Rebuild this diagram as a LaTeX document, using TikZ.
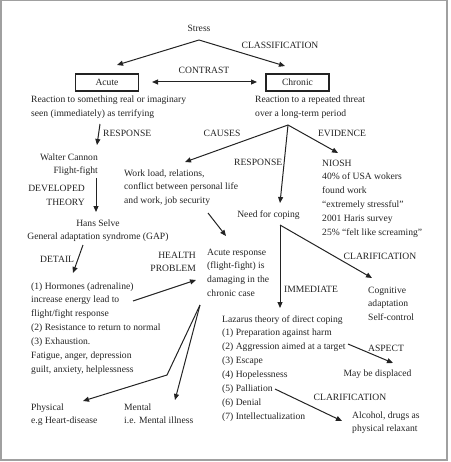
\documentclass[tikz,border=0pt]{standalone}
\usepackage{fontspec}
\setmainfont{Liberation Serif}
\usetikzlibrary{arrows.meta}
\definecolor{ink}{RGB}{35,35,35}
\definecolor{framec}{RGB}{160,160,160}
\begin{document}
\begin{tikzpicture}[x=1pt,y=-1pt,
  txt/.style={inner sep=0pt, font=\fontsize{9.6}{13.9}\selectfont, text=ink, align=left},
  boxnode/.style={draw=ink, line width=1.1pt, minimum width=63pt, minimum height=17pt, inner sep=0pt, font=\fontsize{9.6}{13.9}\selectfont, text=ink},
  conn/.style={draw=ink, line width=1pt, -{Triangle[length=6pt,width=5pt]}},
  ]
\useasboundingbox (0,0) rectangle (450,462);
\draw[framec, line width=1.5pt] (0.75,0.75) rectangle (447,460);

% texts (multi-line nodes are placed by the baseline of their last line)
\node[txt, anchor=base] (stress) at (199,32) {Stress};
\node[txt, anchor=base] (classif) at (280,49) {CLASSIFICATION};
\node[txt, anchor=base] (contrast) at (204,74) {CONTRAST};
\node[boxnode] (acute) at (107,82.5) {Acute};
\node[boxnode] (chronic) at (297.5,82.5) {Chronic};
\node[txt, anchor=base west] (acutedef) at (31,116.9) {Reaction to something real or imaginary\\seen (immediately) as terrifying};
\node[txt, anchor=base west] (chronicdef) at (255,116.9) {Reaction to a repeated threat\\over a long-term period};
\node[txt, anchor=base west] (resp1) at (103,137) {RESPONSE};
\node[txt, anchor=base] (causes) at (222,137) {CAUSES};
\node[txt, anchor=base] (evidence) at (342,137) {EVIDENCE};
\node[txt, anchor=base east, align=right] (cannon) at (98,173.9) {Walter Cannon\\Flight-fight};
\node[txt, anchor=base west] (causelist) at (124,203.8) {Work load, relations,\\conflict between personal life\\and work, job security};
\node[txt, anchor=base west] (resp2) at (234,166) {RESPONSE};
\node[txt, anchor=base west] (niosh) at (322,235.5) {NIOSH\\40\% of USA wokers\\found work\\“extremely stressful”\\2001 Haris survey\\25\% “felt like screaming”};
\node[txt, anchor=base east, align=right] (devtheory) at (85,205.9) {DEVELOPED\\THEORY};
\node[txt, anchor=base] (coping) at (268.5,217) {Need for coping};
\node[txt, anchor=base, align=center] (selye) at (98,239.9) {Hans Selve\\General adaptation syndrome (GAP)};
\node[txt, anchor=base west] (detail) at (40,262) {DETAIL};
\node[txt, anchor=base east, align=right] (health) at (196,271.9) {HEALTH\\PROBLEM};
\node[txt, anchor=base west] (acuteresp) at (207,296.7) {Acute response\\(flight-fight) is\\damaging in the\\chronic case};
\node[txt, anchor=base] (clarif1) at (380,259) {CLARIFICATION};
\node[txt, anchor=base west] (cognitive) at (368,320.8) {Cognitive\\adaptation\\Self-control};
\node[txt, anchor=base] (immediate) at (311,292) {IMMEDIATE};
\node[txt, anchor=base west] (gapdetail) at (31,372.4) {(1) Hormones (adrenaline)\\increase energy lead to\\flight/fight response\\(2) Resistance to return to normal\\(3) Exhaustion.\\Fatigue, anger, depression\\guilt, anxiety, helplessness};
\node[txt, anchor=base west] (lazarus) at (222,419.3) {Lazarus theory of direct coping\\(1) Preparation against harm\\(2) Aggression aimed at a target\\(3) Escape\\(4) Hopelessness\\(5) Palliation\\(6) Denial\\(7) Intellectualization};
\node[txt, anchor=base] (aspect) at (386,351) {ASPECT};
\node[txt, anchor=base] (displaced) at (377.5,376) {May be displaced};
\node[txt, anchor=base] (clarif2) at (350,400) {CLARIFICATION};
\node[txt, anchor=base west] (alcohol) at (352,431.9) {Alcohol, drugs as\\physical relaxant};
\node[txt, anchor=base west] (physical) at (31,423.9) {Physical\\e.g Heart-disease};
\node[txt, anchor=base west] (mental) at (124,423.9) {Mental\\i.e. Mental illness};

% connector points
\coordinate (stressfork) at (199,40);
\coordinate (acutetip) at (117,65);
\coordinate (chronictip) at (285,66);
\coordinate (contrastL) at (152,82);
\coordinate (contrastR) at (257,82);
\coordinate (resp1from) at (100,124);
\coordinate (resp1to) at (97,145);
\coordinate (chronicfork) at (288,125);
\coordinate (causestip) at (185,162);
\coordinate (copingtip) at (280,203);
\coordinate (nioshtip) at (338,153);
\coordinate (devfrom) at (96,178);
\coordinate (devto) at (96,212);
\coordinate (workfrom) at (208,213);
\coordinate (worktip) at (226,236);
\coordinate (gapfrom) at (83,245);
\coordinate (detailtip) at (73,273);
\coordinate (hormfrom) at (133,301);
\coordinate (healthtip) at (196,280);
\coordinate (problemfork) at (200,305);
\coordinate (physbend) at (167,375);
\coordinate (phystip) at (83,401);
\coordinate (menttip) at (175,400);
\coordinate (copingfork) at (280,225);
\coordinate (lazarustip) at (280,308);
\coordinate (cognitivetip) at (372,278);
\coordinate (aggrfrom) at (348,344);
\coordinate (displacedtip) at (393,363);
\coordinate (pallfrom) at (275,389);
\coordinate (alcoholtip) at (342,421);

% connectors
\draw[conn] (stressfork) -- (acutetip);
\draw[conn] (stressfork) -- (chronictip);
\draw[conn, {Triangle[length=6pt,width=5pt]}-{Triangle[length=6pt,width=5pt]}] (contrastL) -- (contrastR);
\draw[conn] (resp1from) -- (resp1to);
\draw[conn] (chronicfork) -- (causestip);
\draw[conn] (chronicfork) -- (copingtip);
\draw[conn] (chronicfork) -- (nioshtip);
\draw[conn] (devfrom) -- (devto);
\draw[conn] (workfrom) -- (worktip);
\draw[conn] (gapfrom) -- (detailtip);
\draw[conn] (hormfrom) -- (healthtip);
\draw[conn] (problemfork) -- (physbend) -- (phystip);
\draw[conn] (problemfork) -- (menttip);
\draw[conn] (copingfork) -- (lazarustip);
\draw[conn] (copingfork) -- (cognitivetip);
\draw[conn] (aggrfrom) -- (displacedtip);
\draw[conn] (pallfrom) -- (alcoholtip);
\end{tikzpicture}
\end{document}
